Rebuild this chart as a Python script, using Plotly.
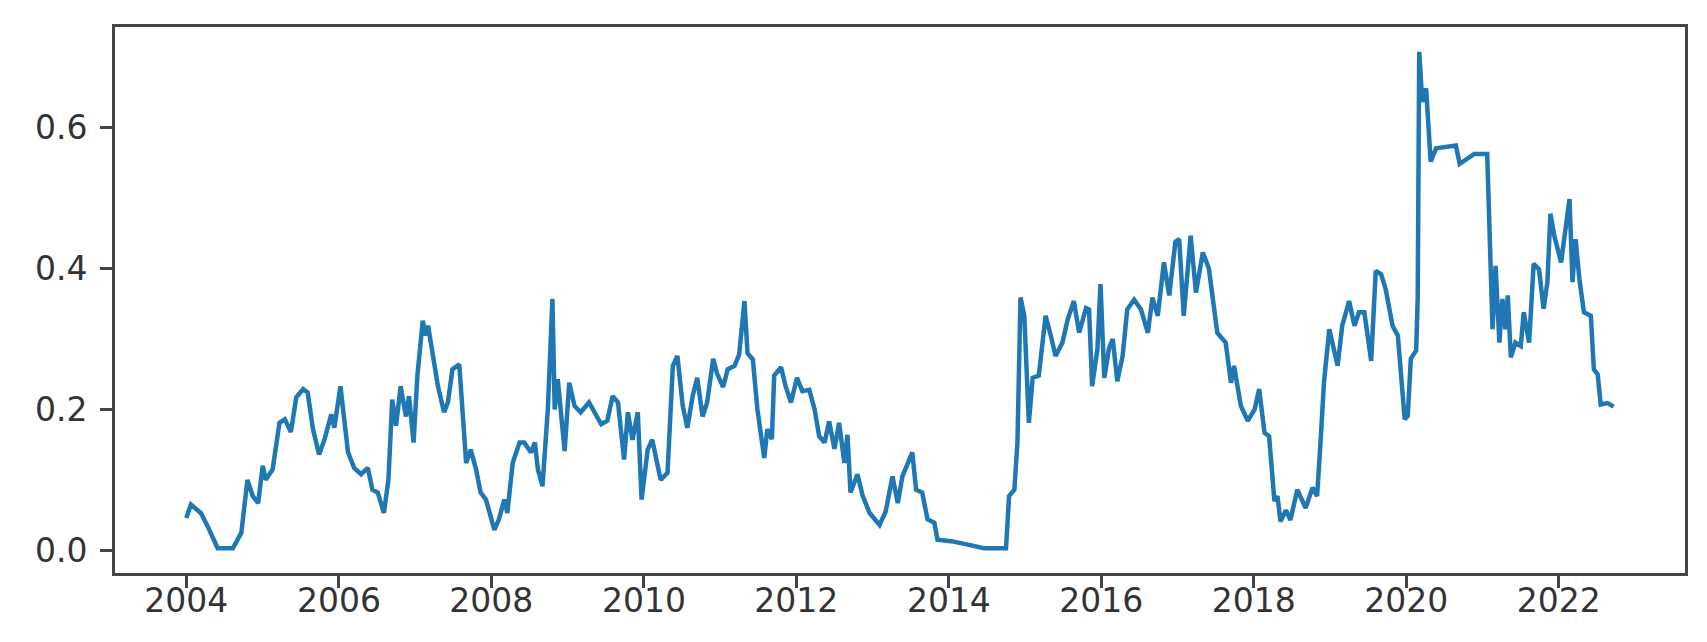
import plotly.graph_objects as go
import pandas as pd

# decimal years
years = [
    2004.00, 2004.06, 2004.19, 2004.28, 2004.41, 2004.61, 2004.72, 2004.80, 2004.87, 2004.94,
    2005.00, 2005.04, 2005.13, 2005.22, 2005.29, 2005.37, 2005.44, 2005.53, 2005.59, 2005.66,
    2005.74, 2005.81, 2005.90, 2005.94, 2006.02, 2006.12, 2006.20, 2006.29, 2006.38, 2006.44,
    2006.51, 2006.59, 2006.65, 2006.70, 2006.75, 2006.81, 2006.88, 2006.92, 2006.98, 2007.03,
    2007.10, 2007.14, 2007.17, 2007.23, 2007.30, 2007.38, 2007.43, 2007.49, 2007.58, 2007.67,
    2007.73, 2007.80, 2007.86, 2007.93, 2008.04, 2008.10, 2008.17, 2008.21, 2008.28, 2008.37,
    2008.43, 2008.52, 2008.57, 2008.61, 2008.67, 2008.74, 2008.80, 2008.83, 2008.87, 2008.96,
    2009.02, 2009.09, 2009.17, 2009.28, 2009.44, 2009.52, 2009.59, 2009.66, 2009.74, 2009.79,
    2009.85, 2009.92, 2009.97, 2010.05, 2010.11, 2010.22, 2010.31, 2010.38, 2010.44, 2010.51,
    2010.57, 2010.64, 2010.70, 2010.77, 2010.83, 2010.91, 2010.96, 2011.04, 2011.10, 2011.19,
    2011.25, 2011.32, 2011.36, 2011.43, 2011.49, 2011.58, 2011.62, 2011.68, 2011.71, 2011.80,
    2011.86, 2011.93, 2012.01, 2012.08, 2012.17, 2012.24, 2012.30, 2012.37, 2012.43, 2012.50,
    2012.56, 2012.63, 2012.67, 2012.71, 2012.80, 2012.87, 2012.96, 2013.09, 2013.17, 2013.26,
    2013.33, 2013.39, 2013.46, 2013.52, 2013.57, 2013.65, 2013.72, 2013.81, 2013.85, 2014.03,
    2014.25, 2014.46, 2014.75, 2014.79, 2014.86, 2014.90, 2014.94, 2014.99, 2015.05, 2015.10,
    2015.18, 2015.27, 2015.34, 2015.40, 2015.49, 2015.56, 2015.64, 2015.71, 2015.80, 2015.84,
    2015.88, 2015.95, 2015.99, 2016.04, 2016.10, 2016.15, 2016.21, 2016.28, 2016.34, 2016.43,
    2016.52, 2016.61, 2016.67, 2016.74, 2016.82, 2016.89, 2016.97, 2017.02, 2017.08, 2017.17,
    2017.24, 2017.33, 2017.41, 2017.52, 2017.63, 2017.70, 2017.74, 2017.83, 2017.92, 2018.01,
    2018.07, 2018.14, 2018.20, 2018.27, 2018.31, 2018.35, 2018.42, 2018.48, 2018.57, 2018.68,
    2018.77, 2018.83, 2018.88, 2018.92, 2018.99, 2019.10, 2019.16, 2019.25, 2019.32, 2019.38,
    2019.45, 2019.54, 2019.60, 2019.67, 2019.73, 2019.82, 2019.89, 2019.98, 2020.02, 2020.06,
    2020.13, 2020.15, 2020.17, 2020.21, 2020.26, 2020.30, 2020.32, 2020.39, 2020.50, 2020.65,
    2020.70, 2020.80, 2020.89, 2021.06, 2021.11, 2021.13, 2021.17, 2021.22, 2021.26, 2021.30,
    2021.33, 2021.37, 2021.43, 2021.50, 2021.54, 2021.61, 2021.67, 2021.74, 2021.80, 2021.85,
    2021.89, 2021.94, 2022.03, 2022.07, 2022.14, 2022.18, 2022.22, 2022.27, 2022.33, 2022.42,
    2022.46, 2022.51, 2022.55, 2022.64, 2022.72,
]

values = [
    0.046, 0.065, 0.053, 0.034, 0.003, 0.003, 0.025, 0.100, 0.077, 0.067,
    0.120, 0.100, 0.115, 0.181, 0.186, 0.168, 0.217, 0.229, 0.224, 0.172,
    0.136, 0.157, 0.193, 0.174, 0.233, 0.139, 0.117, 0.108, 0.117, 0.086,
    0.082, 0.053, 0.100, 0.214, 0.177, 0.233, 0.190, 0.219, 0.153, 0.248,
    0.326, 0.305, 0.319, 0.281, 0.233, 0.196, 0.210, 0.257, 0.264, 0.124,
    0.143, 0.115, 0.082, 0.072, 0.029, 0.044, 0.072, 0.053, 0.124, 0.153,
    0.153, 0.139, 0.153, 0.115, 0.091, 0.200, 0.357, 0.200, 0.243, 0.141,
    0.238, 0.205, 0.196, 0.210, 0.179, 0.184, 0.219, 0.210, 0.129, 0.196,
    0.157, 0.196, 0.072, 0.143, 0.157, 0.100, 0.110, 0.262, 0.276, 0.205,
    0.174, 0.219, 0.245, 0.190, 0.210, 0.272, 0.251, 0.232, 0.257, 0.262,
    0.278, 0.354, 0.280, 0.271, 0.200, 0.131, 0.172, 0.158, 0.248, 0.260,
    0.233, 0.210, 0.245, 0.226, 0.228, 0.200, 0.162, 0.153, 0.183, 0.144,
    0.181, 0.124, 0.164, 0.082, 0.108, 0.077, 0.053, 0.036, 0.055, 0.105,
    0.067, 0.105, 0.124, 0.139, 0.086, 0.082, 0.044, 0.039, 0.015, 0.013,
    0.008, 0.003, 0.003, 0.077, 0.086, 0.153, 0.359, 0.333, 0.181, 0.245,
    0.248, 0.333, 0.304, 0.276, 0.295, 0.328, 0.354, 0.309, 0.344, 0.342,
    0.233, 0.286, 0.378, 0.245, 0.286, 0.300, 0.240, 0.276, 0.342, 0.356,
    0.342, 0.309, 0.359, 0.333, 0.409, 0.362, 0.438, 0.442, 0.333, 0.447,
    0.366, 0.423, 0.400, 0.309, 0.295, 0.238, 0.262, 0.205, 0.184, 0.200,
    0.229, 0.167, 0.162, 0.070, 0.077, 0.041, 0.057, 0.043, 0.086, 0.060,
    0.089, 0.077, 0.162, 0.238, 0.314, 0.262, 0.319, 0.354, 0.319, 0.338,
    0.338, 0.269, 0.397, 0.392, 0.371, 0.319, 0.305, 0.186, 0.191, 0.272,
    0.284, 0.357, 0.708, 0.637, 0.656, 0.589, 0.552, 0.571, 0.573, 0.575,
    0.549, 0.556, 0.563, 0.563, 0.409, 0.314, 0.404, 0.295, 0.357, 0.314,
    0.362, 0.274, 0.295, 0.290, 0.338, 0.295, 0.407, 0.399, 0.343, 0.381,
    0.478, 0.447, 0.409, 0.442, 0.499, 0.381, 0.442, 0.385, 0.338, 0.333,
    0.257, 0.250, 0.207, 0.209, 0.204,
]

x_tick_years = [2004, 2006, 2008, 2010, 2012, 2014, 2016, 2018, 2020, 2022]
y_tick_values = [0.0, 0.2, 0.4, 0.6]


def to_date(y):
    yr = int(y)
    start = pd.Timestamp(year=yr, month=1, day=1)
    end = pd.Timestamp(year=yr + 1, month=1, day=1)
    return start + (end - start) * (y - yr)


dates = [to_date(y) for y in years]

fig = go.Figure(
    go.Scatter(
        x=dates, y=values, mode="lines",
        line=dict(color="#1f77b4", width=4.5),
        showlegend=False,
    )
)

span_x = years[-1] - years[0]
span_y = max(values) - min(values)
x_range = [to_date(years[0] - 0.05 * span_x), to_date(years[-1] + 0.05 * span_x)]
y_range = [min(values) - 0.05 * span_y, max(values) + 0.05 * span_y]

axis_common = dict(
    showline=True, mirror=True, linecolor="#444444", linewidth=3,
    ticks="outside", ticklen=12, tickwidth=2.5, tickcolor="#444444",
    showgrid=False, zeroline=False,
    tickfont=dict(family="DejaVu Sans", size=33, color="#333333"),
)

fig.update_xaxes(
    range=x_range,
    tickvals=[pd.Timestamp(year=y, month=1, day=1) for y in x_tick_years],
    ticktext=[str(y) for y in x_tick_years],
    ticklabelstandoff=-16,
    **axis_common,
)
fig.update_yaxes(
    range=y_range,
    tickvals=y_tick_values,
    ticktext=[f"{v:.1f}" for v in y_tick_values],
    ticklabelstandoff=6,
    **axis_common,
)

fig.update_layout(
    width=1707, height=642,
    margin=dict(l=107, r=30, t=19, b=77, pad=0),
    paper_bgcolor="white", plot_bgcolor="white",
)

fig.write_html("out.html")
